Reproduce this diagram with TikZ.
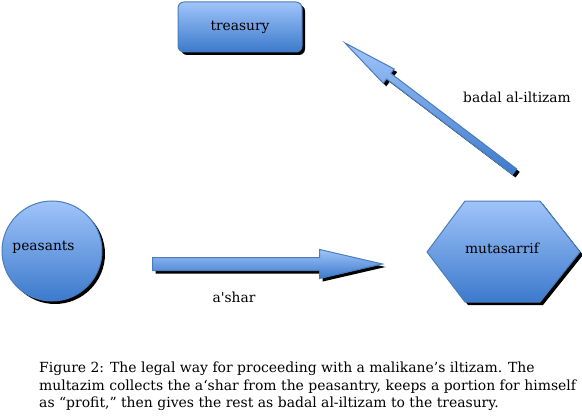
\documentclass[tikz,border=0pt]{standalone}
\usepackage{fontspec}
\setmainfont{DejaVu Serif}
\usetikzlibrary{shapes.arrows,shadows}

\definecolor{shapetop}{RGB}{160,196,250}
\definecolor{shapebottom}{RGB}{60,122,204}
\definecolor{shapeline}{RGB}{74,126,187}

\tikzset{
  office/.style={draw=shapeline, line width=1pt,
    top color=shapetop, bottom color=shapebottom,
    drop shadow={shadow xshift=3pt, shadow yshift=-3pt, fill=black, opacity=1}},
  blockarrow/.style={office, single arrow, inner sep=0pt, anchor=tail},
  lbl/.style={font=\fontsize{13.8}{16}\selectfont}
}

\begin{document}
\begin{tikzpicture}[x=1pt, y=-1pt]
  \useasboundingbox (0,0) rectangle (582,420);
  % the three parties
  \node[office, rounded corners=6pt, minimum width=124pt, minimum height=50pt,
    inner sep=0pt, lbl] (treasury) at (240,27) {treasury};
  \node[office, circle, minimum size=100pt, inner sep=0pt,
    label={[lbl, xshift=-8.5pt, yshift=4pt]center:peasants}] (peasants) at (52,251) {};
  \path[office] (427,252) -- (465,201) -- (540,201) -- (580,252)
    -- (540,302) -- (465,302) -- cycle;
  \node[lbl] (mutasarrif) at (502,248) {mutasarrif};
  % block arrows
  \coordinate (ashar tail) at (152,264);
  \coordinate (badal tail) at (515,172);
  \node[blockarrow, minimum height=230pt, inner ysep=6pt,
    single arrow head extend=8pt, single arrow tip angle=26] (ashar) at (ashar tail) {};
  \node[blockarrow, rotate=142.8, minimum height=213pt, inner ysep=3pt,
    single arrow head extend=5.5pt, single arrow tip angle=18.6] (badal) at (badal tail) {};
  \node[lbl] (ashar label) at (234,297) {a\textquotesingle shar};
  \node[lbl] (badal label) at (517,97) {badal al-iltizam};
  % caption
  \node[anchor=north west, align=left, inner sep=0pt,
    font=\fontsize{13.95}{17.5}\selectfont] (caption) at (39,362)
    {Figure 2: The legal way for proceeding with a malikane’s iltizam. The\\
     multazim collects the a‘shar from the peasantry, keeps a portion for himself\\
     as “profit,” then gives the rest as badal al-iltizam to the treasury.};
\end{tikzpicture}
\end{document}
